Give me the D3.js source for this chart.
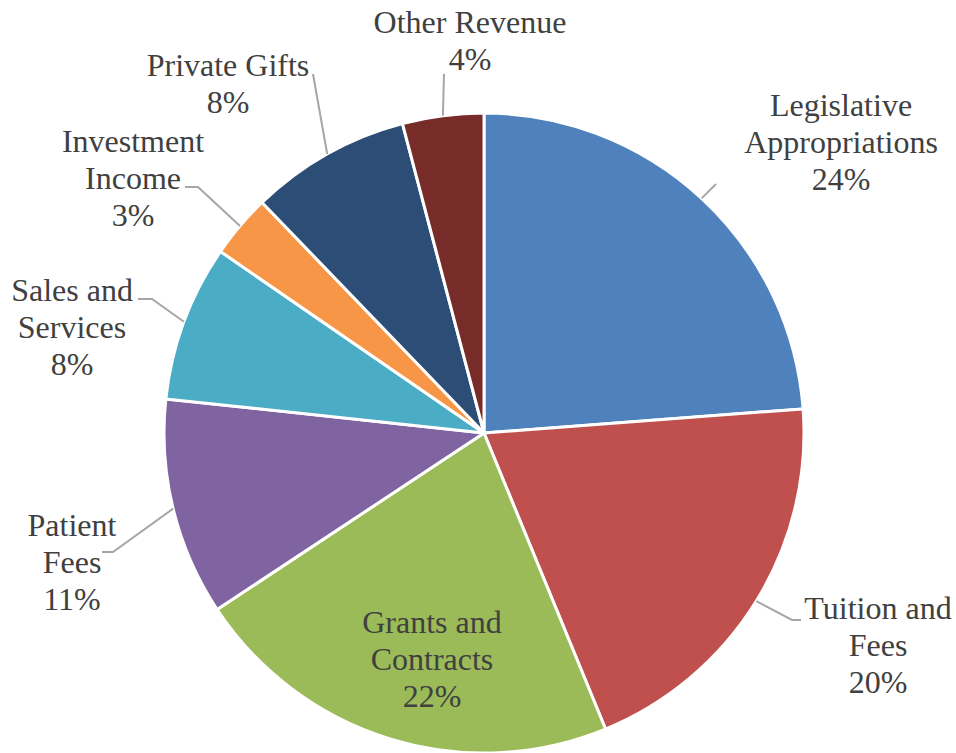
<!DOCTYPE html>
<html>
<head>
<meta charset="utf-8">
<script src="https://cdn.jsdelivr.net/npm/d3@7"></script>
<style>
  html, body { margin: 0; padding: 0; background: #ffffff; }
  svg { display: block; }
  .leader { fill: none; stroke: #a6a6a6; stroke-width: 2; }
</style>
</head>
<body>
<div id="chart"></div>
<script>
// Data
const categories = [
  "Legislative Appropriations",
  "Tuition and Fees",
  "Grants and Contracts",
  "Patient Fees",
  "Sales and Services",
  "Investment Income",
  "Private Gifts",
  "Other Revenue",
];
const values = [23.8, 20.0, 21.9, 11.0, 7.9, 3.2, 8.1, 4.1];
const percentLabels = ["24%", "20%", "22%", "11%", "8%", "3%", "8%", "4%"];
const nameLines = [
  ["Legislative", "Appropriations"],
  ["Tuition and", "Fees"],
  ["Grants and", "Contracts"],
  ["Patient", "Fees"],
  ["Sales and", "Services"],
  ["Investment", "Income"],
  ["Private Gifts"],
  ["Other Revenue"],
];
const colors = ["#4f81bd", "#c0504d", "#9bbb59", "#8064a2", "#4bacc6", "#f79646", "#2c4d75", "#772c2a"];

// Layout (label anchor = centre x, first baseline y; leader = elbow points toward the label)
const width = 956, height = 753;
const cx = 484, cy = 433, radius = 320;
const lineGap = 37;
const fontFamily = "'Liberation Serif', 'Times New Roman', Times, 'DejaVu Serif', serif";
const labelLayout = [
  { x: 841, y: 116, leader: [[716, 184]] },
  { x: 878, y: 619, leader: [[792, 620], [801, 620]] },
  { x: 432, y: 633, leader: null },
  { x: 72, y: 536, leader: [[113, 552], [102, 552]] },
  { x: 72, y: 301, leader: [[152, 299], [138, 299]] },
  { x: 133, y: 152, leader: [[198, 187], [185, 187]] },
  { x: 228, y: 76, leader: [[313, 74]] },
  { x: 470, y: 33, leader: [[444, 74]] },
];

const svg = d3.select("#chart").append("svg")
  .attr("width", width)
  .attr("height", height);

const g = svg.append("g").attr("transform", `translate(${cx},${cy})`);

const pie = d3.pie().sort(null).value((d) => d);
const arcs = pie(values);
const arc = d3.arc().innerRadius(0).outerRadius(radius);

g.selectAll("path.slice")
  .data(arcs)
  .join("path")
  .attr("class", "slice")
  .attr("d", arc)
  .attr("fill", (d, i) => colors[i])
  .attr("stroke", "#ffffff")
  .attr("stroke-width", 3)
  .attr("stroke-linejoin", "round");

// Leader lines from slice edge (mid angle) to labels
const line = d3.line();
arcs.forEach((d, i) => {
  const lay = labelLayout[i];
  if (!lay.leader) return;
  const a = (d.startAngle + d.endAngle) / 2;
  const start = [cx + radius * Math.sin(a), cy - radius * Math.cos(a)];
  svg.append("path")
    .attr("class", "leader")
    .attr("d", line([start, ...lay.leader]));
});

// Labels
const labels = svg.selectAll("text.label")
  .data(categories)
  .join("text")
  .attr("class", "label")
  .attr("font-family", fontFamily)
  .attr("font-size", 32)
  .attr("fill", "#404040")
  .attr("text-anchor", "middle");

labels.each(function (d, i) {
  const t = d3.select(this);
  const lay = labelLayout[i];
  const lines = [...nameLines[i], percentLabels[i]];
  lines.forEach((s, j) => {
    t.append("tspan")
      .attr("x", lay.x)
      .attr("y", lay.y + j * lineGap)
      .text(s);
  });
});
</script>
</body>
</html>
